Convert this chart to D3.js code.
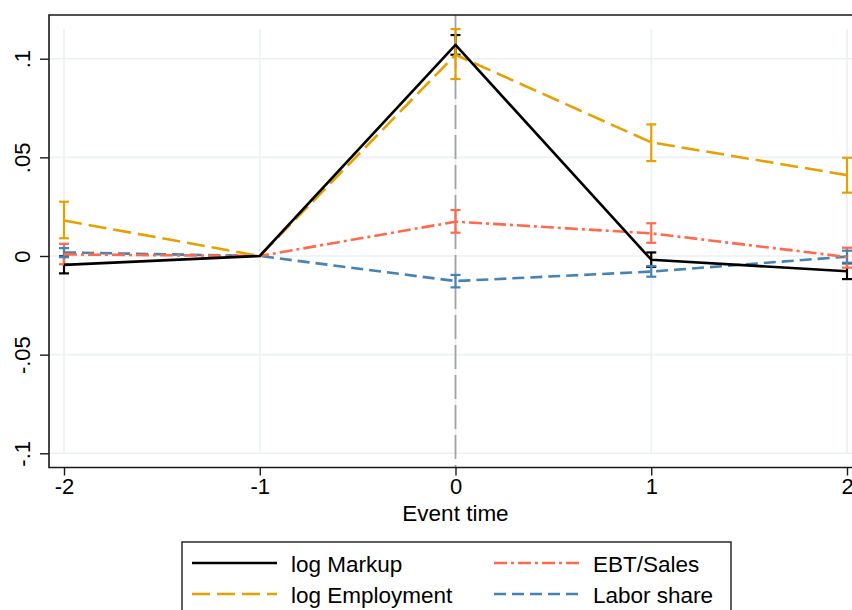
<!DOCTYPE html>
<html>
<head>
<meta charset="utf-8">
<script src="https://cdn.jsdelivr.net/npm/d3@7"></script>
<style>
  html, body { margin: 0; padding: 0; background: #fff; }
  svg { display: block; font-family: "Liberation Sans", Arial, sans-serif; }
</style>
</head>
<body>
<svg id="chart" width="852" height="610"></svg>
<script>
// Event-study coefficients with 95% confidence bounds
const eventTimes = [-2, -1, 0, 1, 2];
const xTickLabels = ["-2", "-1", "0", "1", "2"];
const yTickValues = [0.1, 0.05, 0, -0.05, -0.1];
const yTickLabels = [".1", ".05", "0", "-.05", "-.1"];

const markup     = [-0.0045, 0, 0.107, -0.0019, -0.0077];
const markupLo   = [-0.0088, null, 0.102, -0.0055, -0.0117];
const markupHi   = [-0.0002, null, 0.112, 0.0018, -0.0037];

const employment   = [0.018, 0, 0.102, 0.0576, 0.041];
const employmentLo = [0.0090, null, 0.0897, 0.0481, 0.0321];
const employmentHi = [0.0275, null, 0.115, 0.0667, 0.0498];

const ebtSales   = [0.0008, 0, 0.0174, 0.0115, -0.0005];
const ebtSalesLo = [-0.0042, null, 0.0118, 0.0067, -0.0059];
const ebtSalesHi = [0.0062, null, 0.0233, 0.0166, 0.0042];

const laborShare   = [0.0018, 0, -0.0127, -0.0079, -0.0003];
const laborShareLo = [-0.0006, null, -0.0159, -0.0105, -0.0034];
const laborShareHi = [0.0040, null, -0.0096, -0.0051, 0.0027];

const seriesNames = ["log Markup", "log Employment", "EBT/Sales", "Labor share"];

const series = [
  { name: seriesNames[0], est: markup, lo: markupLo, hi: markupHi, color: "#000000", dash: null },
  { name: seriesNames[1], est: employment, lo: employmentLo, hi: employmentHi, color: "#E8A000", dash: "18,7" },
  { name: seriesNames[2], est: ebtSales, lo: ebtSalesLo, hi: ebtSalesHi, color: "#FF6A4D", dash: "13,4,3,4" },
  { name: seriesNames[3], est: laborShare, lo: laborShareLo, hi: laborShareHi, color: "#4682B4", dash: "12,6" }
];

const svg = d3.select("#chart");

// Plot region
const frame = { left: 49, top: 15, bottom: 467.5, right: 852 };
const x = d3.scaleLinear().domain([-2, 2]).range([64, 847]);
const y = d3.scaleLinear().domain([-0.1, 0.1]).range([453.3, 58.7]);

const gridColor = "#EAF2F3";

// Horizontal gridlines
svg.append("g").selectAll("line").data(yTickValues).join("line")
  .attr("x1", frame.left).attr("x2", frame.right)
  .attr("y1", d => y(d)).attr("y2", d => y(d))
  .attr("stroke", gridColor).attr("stroke-width", 1.6);

// Vertical gridlines
svg.append("g").selectAll("line").data(eventTimes).join("line")
  .attr("x1", d => x(d)).attr("x2", d => x(d))
  .attr("y1", 29).attr("y2", 453.3)
  .attr("stroke", gridColor).attr("stroke-width", 1.6);

// Reference line at event time 0
svg.append("line")
  .attr("x1", x(0)).attr("x2", x(0))
  .attr("y1", frame.top).attr("y2", frame.bottom)
  .attr("stroke", "#A3A3A3").attr("stroke-width", 1.8)
  .attr("stroke-dasharray", "24,6");

// Confidence intervals (caps)
const capHalf = 5;
const ciLayer = svg.append("g");
series.forEach(s => {
  const pts = eventTimes.map((t, i) => ({ t, lo: s.lo[i], hi: s.hi[i] }))
    .filter(d => d.lo !== null && d.hi !== null);
  const g = ciLayer.append("g").attr("stroke", s.color).attr("stroke-width", 2.2).attr("fill", "none");
  g.selectAll("line.v").data(pts).join("line").attr("class", "v")
    .attr("x1", d => x(d.t)).attr("x2", d => x(d.t))
    .attr("y1", d => y(d.lo)).attr("y2", d => y(d.hi));
  g.selectAll("line.lo").data(pts).join("line").attr("class", "lo")
    .attr("x1", d => x(d.t) - capHalf).attr("x2", d => x(d.t) + capHalf)
    .attr("y1", d => y(d.lo)).attr("y2", d => y(d.lo));
  g.selectAll("line.hi").data(pts).join("line").attr("class", "hi")
    .attr("x1", d => x(d.t) - capHalf).attr("x2", d => x(d.t) + capHalf)
    .attr("y1", d => y(d.hi)).attr("y2", d => y(d.hi));
});

// Point-estimate lines
const line = d3.line().x((d, i) => x(eventTimes[i])).y(d => y(d));
const lineLayer = svg.append("g");
series.slice().reverse().forEach(s => {
  lineLayer.append("path")
    .attr("d", line(s.est))
    .attr("fill", "none")
    .attr("stroke", s.color)
    .attr("stroke-width", 2.6)
    .attr("stroke-dasharray", s.dash)
    .attr("stroke-linejoin", "round");
});

// Plot frame (left, top, bottom)
svg.append("path")
  .attr("d", `M${frame.right},${frame.top}H${frame.left}V${frame.bottom}H${frame.right}`)
  .attr("fill", "none").attr("stroke", "#1a1a1a").attr("stroke-width", 1.6);

// Y axis
const yAxis = svg.append("g")
  .attr("transform", `translate(${frame.left},0)`)
  .call(d3.axisLeft(y).tickValues(yTickValues)
    .tickFormat((d, i) => yTickLabels[i]).tickSize(9).tickPadding(0));
yAxis.select(".domain").remove();
yAxis.selectAll(".tick line").attr("stroke", "#1a1a1a").attr("stroke-width", 1.4);
yAxis.selectAll(".tick text")
  .attr("transform", "rotate(-90)")
  .attr("x", 0).attr("y", -19).attr("dy", 0)
  .attr("text-anchor", "middle")
  .attr("fill", "#000")
  .style("font-size", "22px");

// X axis
const xAxis = svg.append("g")
  .attr("transform", `translate(0,${frame.bottom})`)
  .call(d3.axisBottom(x).tickValues(eventTimes)
    .tickFormat((d, i) => xTickLabels[i]).tickSize(8).tickPadding(3));
xAxis.select(".domain").remove();
xAxis.selectAll(".tick line").attr("stroke", "#1a1a1a").attr("stroke-width", 1.4);
xAxis.selectAll(".tick text").attr("fill", "#000").style("font-size", "22px");

// Axis title
svg.append("text")
  .attr("x", x(0)).attr("y", 521)
  .attr("text-anchor", "middle")
  .style("font-size", "22.5px")
  .text("Event time");

// Legend
const legend = svg.append("g");
legend.append("rect")
  .attr("x", 182).attr("y", 542).attr("width", 549).attr("height", 90)
  .attr("fill", "#fff").attr("stroke", "#1a1a1a").attr("stroke-width", 1.4);

const legendPos = [
  { lx: 192, ly: 563, ty: 572 },
  { lx: 192, ly: 594, ty: 603 },
  { lx: 494, ly: 563, ty: 572 },
  { lx: 494, ly: 594, ty: 603 }
];
series.forEach((s, i) => {
  const p = legendPos[i];
  legend.append("line")
    .attr("x1", p.lx).attr("x2", p.lx + 85)
    .attr("y1", p.ly).attr("y2", p.ly)
    .attr("stroke", s.color).attr("stroke-width", 2.6)
    .attr("stroke-dasharray", s.dash);
  legend.append("text")
    .attr("x", p.lx + 99).attr("y", p.ty)
    .style("font-size", "22.5px")
    .text(s.name);
});
</script>
</body>
</html>
